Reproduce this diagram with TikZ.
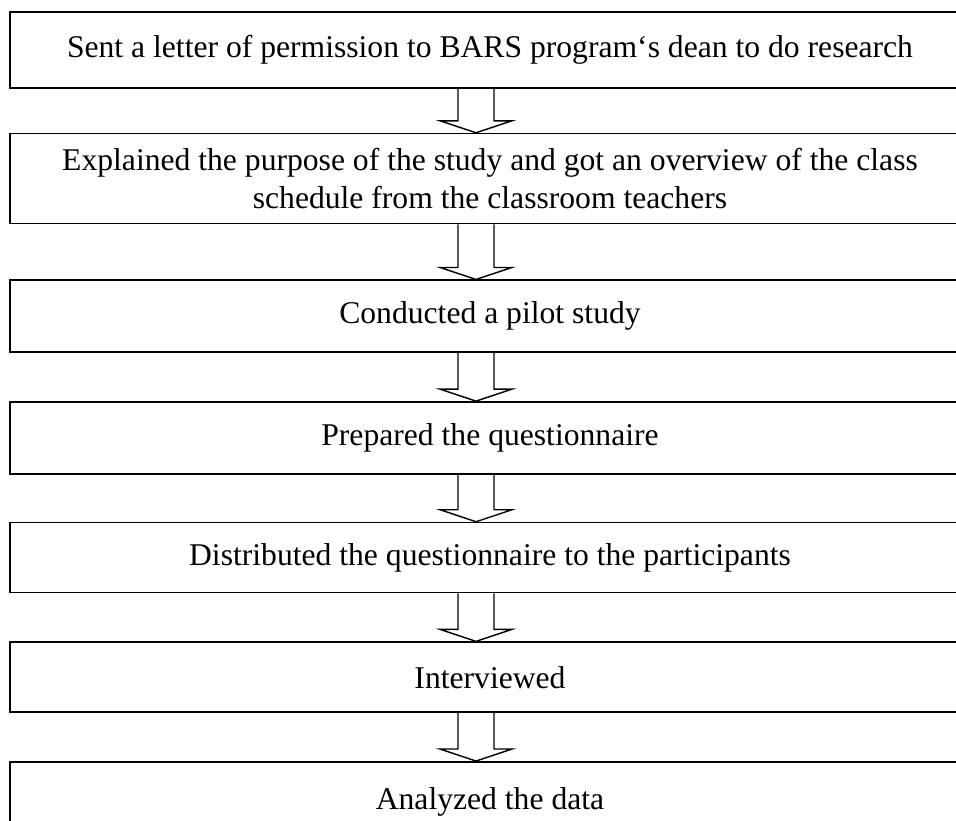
\documentclass[tikz,border=0pt]{standalone}
\usepackage{fontspec}
\setmainfont{Liberation Serif}
\usetikzlibrary{positioning, calc}

\begin{document}
\begin{tikzpicture}
  \newcommand\arrowshift{-0.42}
  \newcommand\shafthalf{0.54}
  \newcommand\headlen{0.36}

  \tikzset{stagebox/.style={draw, line width=1.4pt, minimum width=28.8cm, inner sep=0pt, align=center, font=\fontsize{27pt}{32pt}\selectfont}}
  \tikzset{blockarrow/.style={draw, line width=1.2pt, line join=miter}}

  \path[use as bounding box, clip] (0, 0) rectangle (28.68, -24.63);

  % stages
  \node[stagebox, minimum height=2.28cm] at (14.7, -1.5) (stage1) {Sent a letter of permission to BARS program`s dean to do research};
  \foreach \txt/\hgt/\gap/\id [count=\prevstage from 1] in {
    Explained the purpose of the study and got an overview of the class\\schedule from the classroom teachers/2.7/1.32/2,
    Conducted a pilot study/2.16/1.65/3,
    Prepared the questionnaire/2.16/1.44/4,
    Distributed the questionnaire to the participants/2.1/1.41/5,
    Interviewed/2.1/1.44/6,
    Analyzed the data/2.4/1.44/7}{
    \node[stagebox, minimum height=\hgt cm, below=\gap of stage\prevstage] (stage\id) {\txt};
  }

  % hollow arrows between stages
  \foreach \a [count=\b from 2] in {1, ..., 6}{
    \draw[blockarrow] ($(stage\a.south)+(\arrowshift-\shafthalf, 0)$)
      -- ($(stage\b.north)+(\arrowshift-\shafthalf, \headlen)$)
      -- ++(-\shafthalf, 0)
      -- ($(stage\b.north)+(\arrowshift, 0)$)
      -- ++(2*\shafthalf, \headlen)
      -- ++(-\shafthalf, 0)
      -- ($(stage\a.south)+(\arrowshift+\shafthalf, 0)$);
  }
\end{tikzpicture}
\end{document}
